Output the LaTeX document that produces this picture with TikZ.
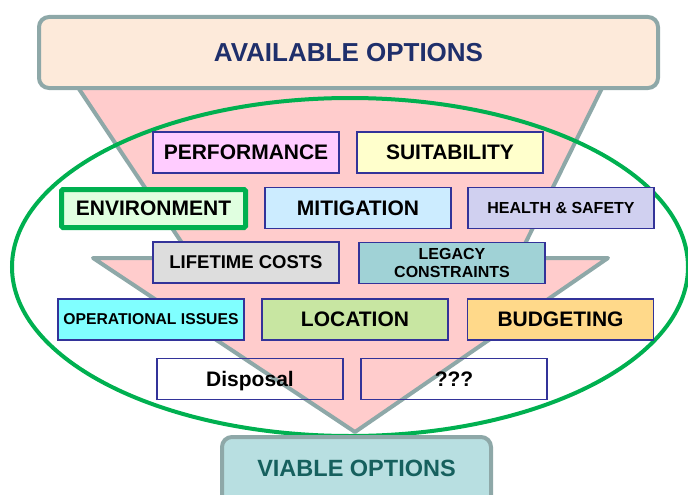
\documentclass[tikz,border=0pt]{standalone}
\usepackage{fontspec}
\setmainfont{Liberation Sans}
\usepackage{tikz}
\definecolor{edgegray}{HTML}{8EA8A8}
\definecolor{funnelpink}{HTML}{FFCCCC}
\definecolor{peach}{HTML}{FDEADA}
\definecolor{headnavy}{HTML}{1F2F6B}
\definecolor{tailteal}{HTML}{B8DFE1}
\definecolor{tailtext}{HTML}{16605E}
\definecolor{ringgreen}{HTML}{00B050}
\definecolor{boxnavy}{HTML}{333399}

\begin{document}
\begin{tikzpicture}[x=1pt,y=-1pt,
  opt/.style={draw=boxnavy,line width=1.4pt,minimum width=186pt,minimum height=41pt,
    inner sep=0pt,font=\bfseries\fontsize{21}{25}\selectfont},
  smallopt/.style={opt,font=\bfseries\fontsize{16}{18}\selectfont},
  endbox/.style={draw=edgegray,line width=4pt,rounded corners=10pt,inner sep=0pt}]
  \useasboundingbox (0,0) rectangle (688,495);
  \clip (0,0) rectangle (688,495);
  \filldraw[fill=funnelpink,draw=edgegray,line width=4pt,line join=round]
    (73,80) -- (192,258) -- (93,258) -- (355,432) -- (608,258) -- (518,258) -- (606,80) -- cycle;
  \draw[ringgreen,line width=4pt] (350,267) ellipse [x radius=338,y radius=169];
  \node[endbox,fill=peach,text=headnavy,minimum width=619pt,minimum height=71pt,
    font=\bfseries\fontsize{26}{30}\selectfont] (avail) at (348.5,52.5) {AVAILABLE OPTIONS};
  \node[endbox,fill=tailteal,text=tailtext,minimum width=269pt,minimum height=70pt,
    font=\bfseries\fontsize{23.5}{28}\selectfont] (viable) at (356.5,472) {};
  \node[text=tailtext,font=\bfseries\fontsize{23.5}{28}\selectfont] (viabletext) at (356.5,468) {VIABLE OPTIONS};
  \node[opt,fill={rgb,255:red,255;green,204;blue,255}] (perf) at (246,152.5) {PERFORMANCE};
  \node[opt,fill={rgb,255:red,255;green,255;blue,204}] (suit) at (450,152.5) {SUITABILITY};
  \node[opt,draw=ringgreen,line width=5pt,rounded corners=1.5pt,minimum width=184pt,
    minimum height=38pt,fill={rgb,255:red,224;green,255;blue,224}] (env) at (153.5,208.5) {ENVIRONMENT};
  \node[opt,fill={rgb,255:red,204;green,236;blue,255}] (mitig) at (358,208) {MITIGATION};
  \node[smallopt,fill={rgb,255:red,208;green,208;blue,240}] (health) at (561,208) {HEALTH \& SAFETY};
  \node[opt,font=\bfseries\fontsize{18.5}{22}\selectfont,fill={rgb,255:red,221;green,221;blue,221}] (life) at (246,262.5) {LIFETIME COSTS};
  \node[smallopt,align=center,fill={rgb,255:red,160;green,210;blue,214}] (legacy) at (452,263) {LEGACY\\CONSTRAINTS};
  \node[smallopt,font=\bfseries\fontsize{15.7}{18}\selectfont,fill={rgb,255:red,128;green,255;blue,255}] (oper) at (151,319.5) {OPERATIONAL ISSUES};
  \node[opt,fill={rgb,255:red,200;green,230;blue,162}] (loc) at (355,319.5) {LOCATION};
  \node[opt,fill={rgb,255:red,255;green,217;blue,138}] (budget) at (560.5,319.5) {BUDGETING};
  \node[opt,text depth=0pt] (disp) at (250,379) {Disposal};
  \node[opt] (unknown) at (454,379) {???};
\end{tikzpicture}
\end{document}
